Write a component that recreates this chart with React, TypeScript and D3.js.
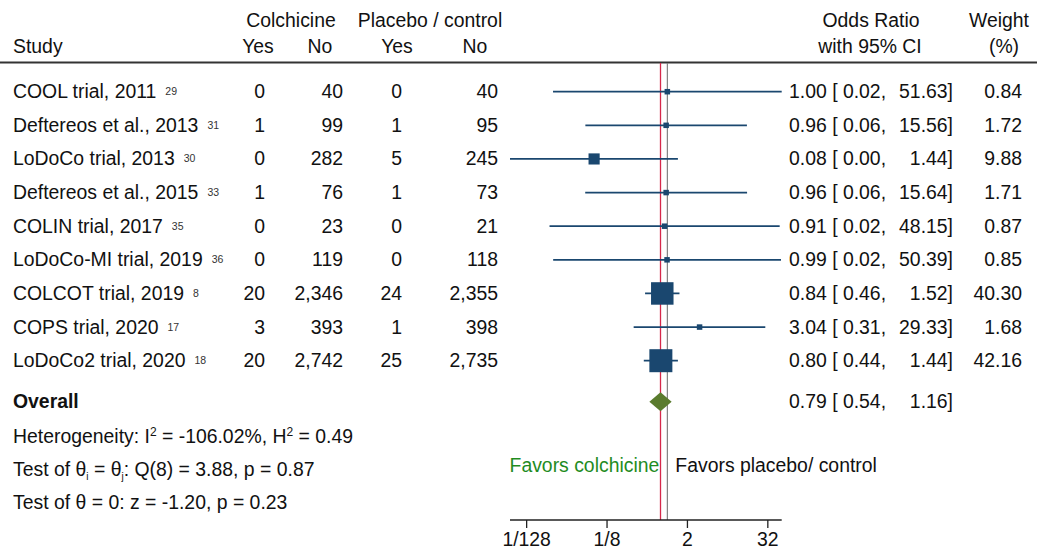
import React from "react";
import * as d3 from "d3";

// Study rows
const studies = [
  "COOL trial, 2011",
  "Deftereos et al., 2013",
  "LoDoCo trial, 2013",
  "Deftereos et al., 2015",
  "COLIN trial, 2017",
  "LoDoCo-MI trial, 2019",
  "COLCOT trial, 2019",
  "COPS trial, 2020",
  "LoDoCo2 trial, 2020",
];
const refs = ["29", "31", "30", "33", "35", "36", "8", "17", "18"];

// Event counts
const colchYes = [0, 1, 0, 1, 0, 0, 20, 3, 20];
const colchNo = [40, 99, 282, 76, 23, 119, 2346, 393, 2742];
const placYes = [0, 1, 5, 1, 0, 0, 24, 1, 25];
const placNo = [40, 95, 245, 73, 21, 118, 2355, 398, 2735];

// Effect sizes (odds ratios with 95% CI) and weights (%)
const oddsRatio = [1.0, 0.96, 0.08, 0.96, 0.91, 0.99, 0.84, 3.04, 0.8];
const ciLower = [0.0194, 0.0592, 0.0044, 0.0589, 0.0172, 0.0195, 0.464, 0.313, 0.444];
const ciUpper = [51.63, 15.56, 1.44, 15.64, 48.15, 50.39, 1.52, 29.33, 1.44];
const weights = [0.84, 1.72, 9.88, 1.71, 0.87, 0.85, 40.3, 1.68, 42.16];

// Pooled estimate
const overallOR = 0.79;
const overallLower = 0.538;
const overallUpper = 1.16;

// Axis ticks
const tickValues = [1 / 128, 1 / 8, 2, 32];
const tickLabels = ["1/128", "1/8", "2", "32"];

const FONT = "'Liberation Sans', Arial, Helvetica, sans-serif";
const FS = 19.4;
const NAVY = "#1a476f";
const TXT = "#111";

const fmtInt = d3.format(",");
const f2 = (v: number) => v.toFixed(2);

export default function App() {
  const width = 1037;
  const height = 551;

  const allLow = d3.min(ciLower) as number;
  const allHigh = d3.max(ciUpper) as number;
  const x = d3.scaleLog().base(2).domain([allLow, allHigh]).range([510, 781.7]);
  const y = d3.scalePoint<string>().domain(studies).range([91.7, 360.7]);
  const yOverall = 401.7;
  const size = d3.scaleSqrt().domain([0, d3.max(weights) as number]).range([0, 23]);

  const plotTop = 63;
  const axisY = 520;
  const base = 6.5; // text baseline offset from row centre

  const colX = { cy: 265, cn: 343, py: 402, pn: 498 };

  return (
    <svg
      width={width}
      height={height}
      style={{ position: "absolute", left: 0, top: 0, background: "#fff" }}
      fontFamily={FONT}
      fontSize={FS}
      fill={TXT}
    >
      <rect width={width} height={height} fill="#fff" />

      {/* Column headers */}
      <text x={291} y={27} textAnchor="middle">Colchicine</text>
      <text x={430} y={27} textAnchor="middle">Placebo / control</text>
      <text x={13} y={53}>Study</text>
      <text x={258} y={53} textAnchor="middle">Yes</text>
      <text x={320} y={53} textAnchor="middle">No</text>
      <text x={397} y={53} textAnchor="middle">Yes</text>
      <text x={475} y={53} textAnchor="middle">No</text>
      <text x={871} y={27} textAnchor="middle">Odds Ratio</text>
      <text x={870} y={53} textAnchor="middle">with 95% CI</text>
      <text x={999} y={27} textAnchor="middle">Weight</text>
      <text x={1004} y={53} textAnchor="middle">(%)</text>
      <line x1={0} x2={width} y1={62.5} y2={62.5} stroke="#333" strokeWidth={1.8} />

      {/* Reference lines: overall effect and no effect */}
      <line x1={x(overallOR)} x2={x(overallOR)} y1={plotTop} y2={axisY} stroke="#d6284a" strokeWidth={1.3} />
      <line x1={x(1)} x2={x(1)} y1={plotTop} y2={axisY} stroke="#777" strokeWidth={1.1} />

      {/* Study rows */}
      {studies.map((s, i) => {
        const yy = y(s) as number;
        const sz = Math.max(5.5, size(weights[i]));
        return (
          <g key={s}>
            <text x={13} y={yy + base}>
              {s}
              <tspan dx={9} fontSize={10.5} dy={-3} fill="#333">{refs[i]}</tspan>
            </text>
            <text x={colX.cy} y={yy + base} textAnchor="end">{fmtInt(colchYes[i])}</text>
            <text x={colX.cn} y={yy + base} textAnchor="end">{fmtInt(colchNo[i])}</text>
            <text x={colX.py} y={yy + base} textAnchor="end">{fmtInt(placYes[i])}</text>
            <text x={colX.pn} y={yy + base} textAnchor="end">{fmtInt(placNo[i])}</text>

            <line x1={x(ciLower[i])} x2={x(ciUpper[i])} y1={yy} y2={yy} stroke={NAVY} strokeWidth={1.8} />
            <rect x={x(oddsRatio[i]) - sz / 2} y={yy - sz / 2} width={sz} height={sz} fill={NAVY} />

            <text x={789} y={yy + base} xmlSpace="preserve">
              {`${f2(oddsRatio[i])} [ ${f2(ciLower[i])},`}
            </text>
            <text x={953} y={yy + base} textAnchor="end">{`${f2(ciUpper[i])}]`}</text>
            <text x={1022} y={yy + base} textAnchor="end">{f2(weights[i])}</text>
          </g>
        );
      })}

      {/* Overall */}
      <text x={13} y={yOverall + base} fontWeight="bold">Overall</text>
      <path
        d={`M${x(overallLower)},${yOverall} L${x(overallOR)},${yOverall - 9.5} L${x(overallUpper)},${yOverall} L${x(overallOR)},${yOverall + 9.5} Z`}
        fill="#5a7b2e"
      />
      <text x={789} y={yOverall + base} xmlSpace="preserve">
        {`${f2(overallOR)} [ ${f2(overallLower)},`}
      </text>
      <text x={953} y={yOverall + base} textAnchor="end">{`${f2(overallUpper)}]`}</text>

      {/* Heterogeneity and tests */}
      <text x={13} y={443}>
        Heterogeneity: I<tspan fontSize={12} dy={-7}>2</tspan>
        <tspan dy={7}> = -106.02%, H</tspan>
        <tspan fontSize={12} dy={-7}>2</tspan>
        <tspan dy={7}> = 0.49</tspan>
      </text>
      <text x={13} y={476}>
        Test of θ<tspan fontSize={10} dy={4}>i</tspan>
        <tspan dy={-4}> = θ</tspan>
        <tspan fontSize={10} dy={4}>j</tspan>
        <tspan dy={-4}>: Q(8) = 3.88, p = 0.87</tspan>
      </text>
      <text x={13} y={509}>Test of θ = 0: z = -1.20, p = 0.23</text>

      {/* Direction labels */}
      <text x={x(1) - 8} y={472} textAnchor="end" fill="#1f8c1f">Favors colchicine</text>
      <text x={x(1) + 8} y={472}>Favors placebo/ control</text>

      {/* X axis */}
      <line x1={x.range()[0]} x2={x.range()[1]} y1={axisY} y2={axisY} stroke="#222" strokeWidth={1.3} />
      {tickValues.map((v, i) => (
        <g key={i}>
          <line x1={x(v)} x2={x(v)} y1={axisY} y2={axisY + 8} stroke="#222" strokeWidth={1.3} />
          <text x={x(v)} y={546} textAnchor="middle">{tickLabels[i]}</text>
        </g>
      ))}
    </svg>
  );
}
